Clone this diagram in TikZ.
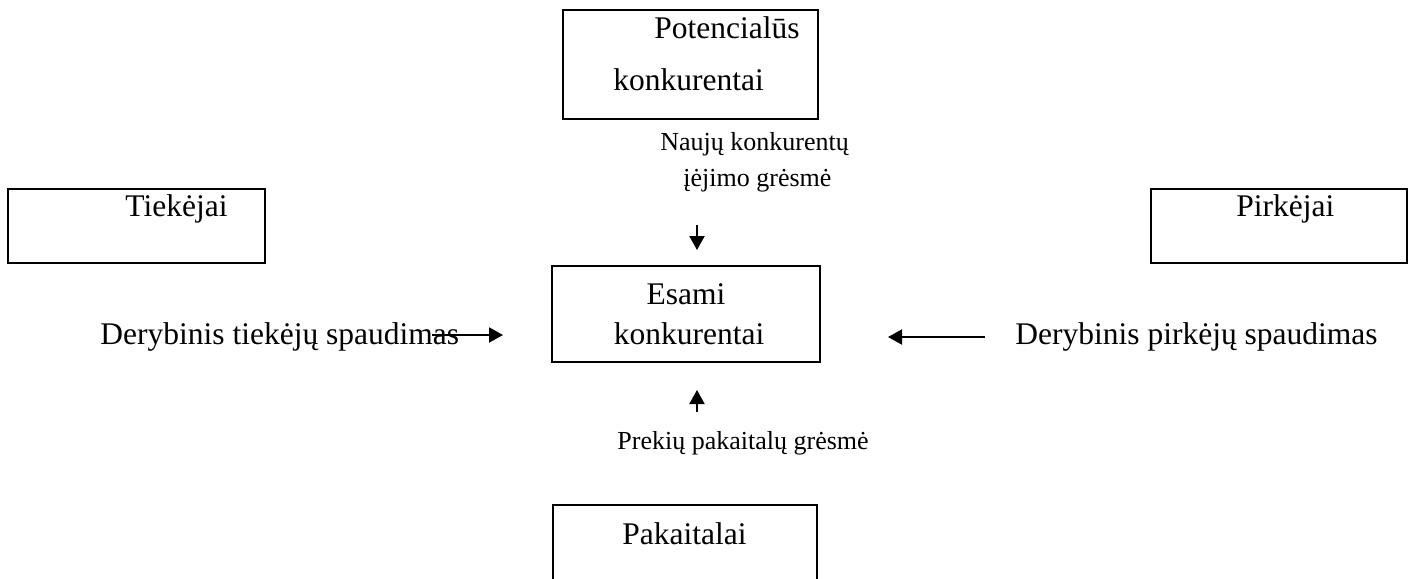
\documentclass[tikz,border=0pt]{standalone}
\usepackage{fontspec}
\setmainfont{Liberation Serif}
\usetikzlibrary{arrows.meta,fit}

\tikzset{
  panel/.style={draw, line width=1.3pt, inner sep=0pt},
  maintext/.style={inner sep=0pt, anchor=base west, font=\fontsize{15.75}{18}\selectfont},
  smalltext/.style={inner sep=0pt, anchor=base west, font=\fontsize{13}{15}\selectfont},
  force/.style={line width=1pt, -{Triangle[length=7pt,width=7.5pt]}}
}

\begin{document}
\begin{tikzpicture}[x=0.5pt,y=-0.5pt]
  \useasboundingbox (0,0) rectangle (1411,578);
  \clip (0,0) rectangle (1411,578);

  % the five boxes (the lowest one runs past the page edge)
  \node[panel, fit={(563,10) (818,119)}] (potbox) {};
  \node[panel, fit={(8,189) (265,263)}] (tiebox) {};
  \node[panel, fit={(1151,189) (1407,263)}] (pirbox) {};
  \node[panel, fit={(552,266) (820,362)}] (esbox) {};
  \node[panel, fit={(553,505) (817,590)}] (pakbox) {};

  % box captions
  \node[maintext] (pot1) at (654,38) {Potencialūs};
  \node[maintext] (pot2) at (613,90) {konkurentai};
  \node[maintext] (tie) at (125,216) {Tiekėjai};
  \node[maintext] (pir) at (1236,216) {Pirkėjai};
  \node[maintext, anchor=base] (es1) at (686,304) {Esami};
  \node[maintext, anchor=base] (es2) at (689,344) {konkurentai};
  \node[maintext] (pak) at (622,544) {Pakaitalai};

  % force labels
  \node[smalltext] (nau1) at (660,150) {Naujų konkurentų};
  \node[smalltext] (nau2) at (683,186) {įėjimo grėsmė};
  \node[maintext] (dtie) at (100,344) {Derybinis tiekėjų spaudimas};
  \node[maintext] (dpir) at (1015,344) {Derybinis pirkėjų spaudimas};
  \node[smalltext] (prek) at (617,449) {Prekių pakaitalų grėsmė};

  % arrow end points
  \coordinate (dnA) at (697,225);
  \coordinate (dnB) at (697,250);
  \coordinate (upA) at (697,412);
  \coordinate (upB) at (697,390);
  \coordinate (ltA) at (432,335);
  \coordinate (ltB) at (503,335);
  \coordinate (rtA) at (985,337);
  \coordinate (rtB) at (888,337);

  \draw[force] (dnA) -- (dnB);
  \draw[force] (upA) -- (upB);
  \draw[force] (ltA) -- (ltB);
  \draw[force] (rtA) -- (rtB);
\end{tikzpicture}
\end{document}
